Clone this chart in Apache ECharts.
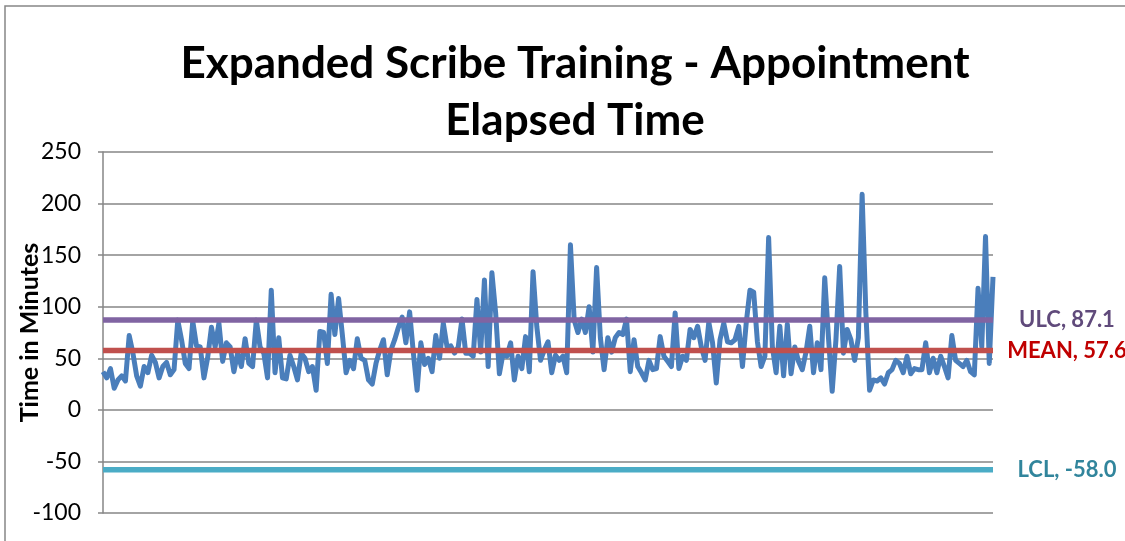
<!DOCTYPE html>
<html>
<head>
<meta charset="utf-8">
<title>Expanded Scribe Training - Appointment Elapsed Time</title>
<script src="https://cdn.jsdelivr.net/npm/echarts@6/dist/echarts.min.js"></script>
<style>
  html, body { margin: 0; padding: 0; background: #fff; }
  #main { width: 1125px; height: 541px; }
</style>
</head>
<body>
<div id="main"></div>
<script>
// appointment elapsed time in minutes left to right
const elapsed = [
  37, 31, 40, 21, 29, 33, 28, 72, 55, 33, 23, 42, 36, 53, 46, 31, 42, 46, 34, 39,
  87, 68, 45, 40, 86, 62, 61, 31, 51, 80, 61, 84, 47, 65, 61, 37, 55,
  42, 69, 45, 42, 87, 61, 55, 31, 116, 36, 70, 31, 30, 53, 42, 29, 55, 50, 37, 42,
  19, 76, 75, 45, 112, 73, 108, 73, 36, 48, 40, 69, 50, 48, 29, 25, 45, 58, 68, 34, 58, 68,
  80, 90, 65, 95, 55, 19, 65, 44, 50, 37, 72, 50, 84, 61, 62, 55, 61, 88, 55, 55,
  52, 107, 56, 126, 42, 133, 94, 35, 55, 52, 65, 29, 52, 40, 71, 37, 134, 81, 48,
  58, 66, 36, 53, 48, 52, 36, 160, 87, 75, 88, 75, 100, 56, 138, 70, 39, 70, 56, 70,
  75, 73, 88, 37, 68, 42, 36, 29, 48, 39, 40, 71, 52, 47, 42, 94, 40, 52, 48,
  78, 70, 81, 61, 48, 85, 65, 26, 68, 84, 66, 65, 68, 81, 42, 84, 116, 114, 66, 42,
  52, 167, 61, 36, 81, 33, 83, 35, 61, 47, 39, 56, 81, 36, 65, 39, 128, 70, 18, 68,
  139, 55, 78, 68, 48, 70, 209, 94, 19, 29, 28, 31, 25, 36, 39, 48, 45, 36, 52, 35,
  40, 39, 39, 65, 36, 50, 36, 52, 42, 31, 72, 48, 45, 42, 48, 37, 34, 118, 61, 168,
  45, 129
];
const categories = elapsed.map((v, i) => i + 1);

// control limits
const ulcValue = 87.1;
const meanValue = 57.6;
const lclValue = -58.0;

const yTicks = { min: -100, max: 250, interval: 50 };

const font = 'Lato, "Open Sans", sans-serif';
const gridGray = '#868686';

let myChart = echarts.init(document.getElementById('main'));

function limitSeries(name, value, lineColor, labelColor) {
    return {
        name: name,
        type: 'line',
        data: categories.map(() => value),
        symbol: 'none',
        silent: true,
        lineStyle: { color: lineColor, width: 5.5 },
        endLabel: {
            show: true,
            formatter: name + ', ' + value.toFixed(1),
            color: labelColor,
            fontFamily: font,
            fontWeight: 'bold',
            fontSize: 22,
            align: 'center',
            offset: [66, 0]
        }
    };
}

myChart.setOption({
    animation: false,
    title: {
        text: 'Expanded Scribe Training - Appointment\nElapsed Time',
        left: 570,
        top: 30,
        textAlign: 'center',
        textStyle: {
            fontFamily: font,
            fontWeight: 'bold',
            fontSize: 44,
            lineHeight: 57,
            color: '#000'
        }
    },
    graphic: [{
        type: 'rect',
        shape: { x: 5, y: 6, width: 1140, height: 560 },
        style: { fill: 'none', stroke: gridGray, lineWidth: 1.5 },
        silent: true
    }],
    grid: {
        left: 103,
        right: 132,
        top: 152,
        bottom: 28,
        containLabel: false,
        outerBoundsMode: 'none'
    },
    xAxis: {
        type: 'category',
        data: categories,
        boundaryGap: false,
        axisLine: { show: false },
        axisTick: { show: false },
        axisLabel: { show: false },
        splitLine: { show: false }
    },
    yAxis: {
        type: 'value',
        min: yTicks.min,
        max: yTicks.max,
        interval: yTicks.interval,
        name: 'Time in Minutes',
        nameLocation: 'middle',
        nameGap: 61,
        nameMoveOverlap: false,
        nameTextStyle: {
            fontFamily: font,
            fontWeight: 'bold',
            fontSize: 25,
            color: '#000'
        },
        axisLine: { show: true, lineStyle: { color: gridGray, width: 1.5 } },
        axisTick: { show: true, length: 5, lineStyle: { color: gridGray, width: 1.5 } },
        axisLabel: {
            fontFamily: font,
            fontSize: 23,
            color: '#000',
            margin: 22
        },
        splitLine: { lineStyle: { color: gridGray, width: 1.5 } }
    },
    series: [
        {
            name: 'Elapsed',
            type: 'line',
            data: elapsed,
            symbol: 'none',
            lineStyle: { color: '#4a7ebb', width: 5, join: 'round' }
        },
        limitSeries('ULC', ulcValue, '#8064a2', '#604a7b'),
        limitSeries('MEAN', meanValue, '#c0504d', '#c00000'),
        limitSeries('LCL', lclValue, '#4bacc6', '#31859c')
    ]
});
</script>
</body>
</html>
